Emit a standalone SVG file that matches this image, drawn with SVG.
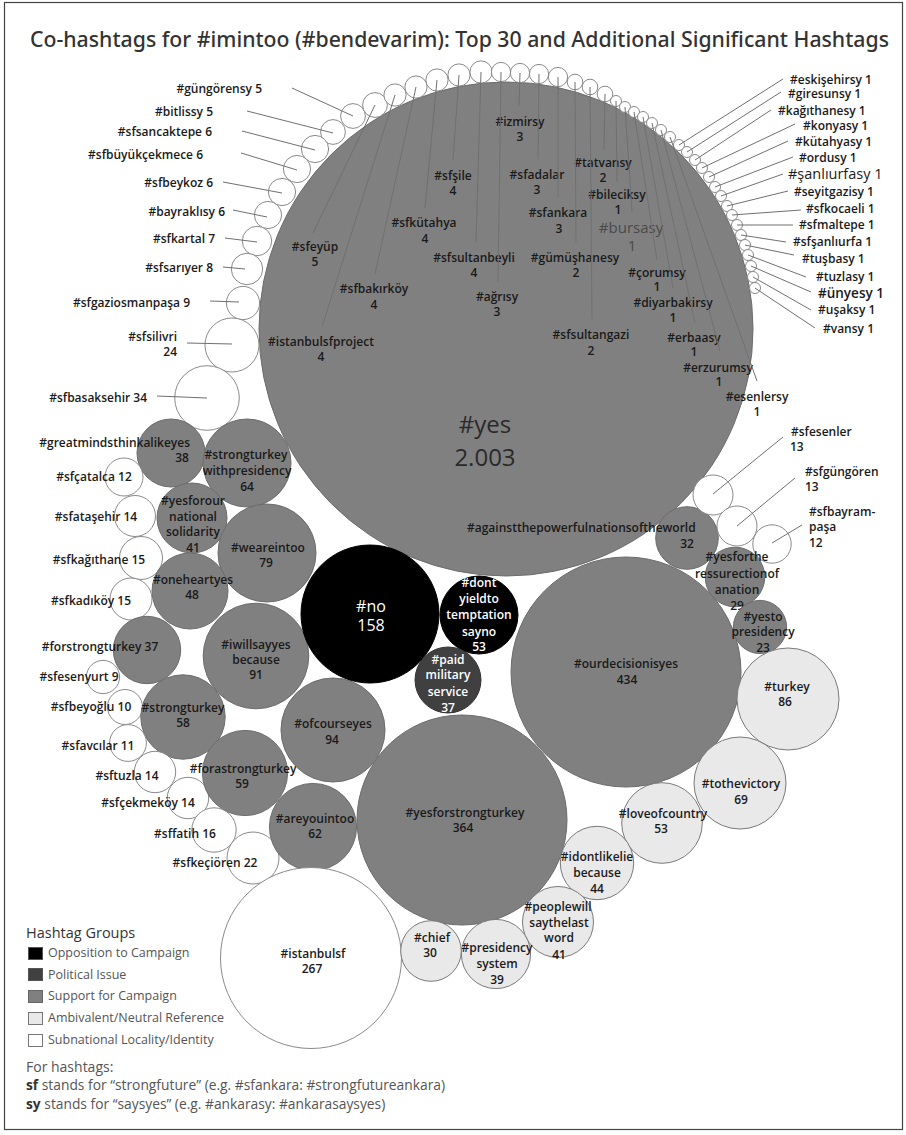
<svg xmlns="http://www.w3.org/2000/svg" width="906" height="1135" viewBox="0 0 906 1135">
<style>
.sup{fill:#808080;stroke:#6c6c6c;stroke-width:1}
.opp{fill:#000;stroke:#000}
.pol{fill:#404040;stroke:#333}
.amb{fill:#e9e9e9;stroke:#7a7a7a}
.sub{fill:#fff;stroke:#8a8a8a}
text{font-family:"Open Sans","Noto Sans","DejaVu Sans",sans-serif}
.t{font-size:12px;font-weight:600;fill:#1a1a1a;text-anchor:middle}
.s{text-anchor:start}
.e{text-anchor:end}
.w{fill:#fff}
.ln{stroke:#707070;stroke-width:1;fill:none}
.lg{font-size:12.5px;fill:#555}
</style>
<rect x="4.5" y="2.5" width="898" height="1127" fill="#fff" stroke="#444" stroke-width="1.2"/>
<text x="30" y="47" font-size="21" fill="#333" font-weight="500" textLength="859" lengthAdjust="spacingAndGlyphs" style="font-family:'Noto Sans','Open Sans',sans-serif">Co-hashtags for #imintoo (#bendevarim): Top 30 and Additional Significant Hashtags</text>

<g id="n-yes"><circle class="sup" cx="506" cy="329" r="247"/>
<text class="t" x="485" y="433" style="font-size:24px;font-weight:400;fill:#2a2a2a">#yes</text>
<text class="t" x="485" y="466" style="font-size:24px;font-weight:400;fill:#2a2a2a">2.003</text></g>

<!-- left ring -->
<g id="n-gungorensy"><circle class="sub" cx="353" cy="116" r="12.4"/><text class="t e" x="262" y="93">#güngörensy 5</text></g>
<g id="n-bitlissy"><circle class="sub" cx="333" cy="132" r="12.4"/><text class="t e" x="213" y="116">#bitlissy 5</text></g>
<g id="n-sfsancaktepe"><circle class="sub" cx="315" cy="149" r="13.6"/><text class="t e" x="212" y="136">#sfsancaktepe 6</text></g>
<g id="n-sfbuyukcekmece"><circle class="sub" cx="297" cy="169" r="13.6"/><text class="t e" x="203" y="159">#sfbüyükçekmece 6</text></g>
<g id="n-sfbeykoz"><circle class="sub" cx="282" cy="192" r="13.6"/><text class="t e" x="213" y="187">#sfbeykoz 6</text></g>
<g id="n-bayraklisy"><circle class="sub" cx="268" cy="215" r="13.6"/><text class="t e" x="225" y="216">#bayraklısy 6</text></g>
<g id="n-sfkartal"><circle class="sub" cx="257" cy="241" r="14.7"/><text class="t e" x="215" y="243">#sfkartal 7</text></g>
<g id="n-sfsariyer"><circle class="sub" cx="247" cy="269" r="15.7"/><text class="t e" x="213" y="272">#sfsarıyer 8</text></g>
<g id="n-sfgaziosmanpasa"><circle class="sub" cx="243" cy="303" r="16.6"/><text class="t e" x="190" y="307">#sfgaziosmanpaşa 9</text></g>
<g id="n-sfsilivri"><circle class="sub" cx="232" cy="345" r="27"/><text class="t e" x="177" y="341">#sfsilivri</text><text class="t e" x="177" y="356">24</text></g>
<g id="n-sfbasaksehir"><circle class="sub" cx="207" cy="398" r="32.3"/><text class="t e" x="147" y="402">#sfbasaksehir 34</text></g>

<!-- top ring with inner labels -->
<g id="n-sfeyup"><circle class="sub" cx="375" cy="105" r="12.4"/><text class="t" x="315" y="251">#sfeyüp</text><text class="t" x="315" y="266">5</text></g>
<g id="n-istanbulsfproject"><circle class="sub" cx="395" cy="95" r="11.1"/><text class="t" x="321" y="346">#istanbulsfproject</text><text class="t" x="321" y="361">4</text></g>
<g id="n-sfbakirkoy"><circle class="sub" cx="416" cy="87" r="11.1"/><text class="t" x="374" y="293">#sfbakırköy</text><text class="t" x="374" y="309">4</text></g>
<g id="n-sfkutahya"><circle class="sub" cx="437" cy="80" r="11.1"/><text class="t" x="424" y="227">#sfkütahya</text><text class="t" x="425" y="243">4</text></g>
<g id="n-sfsile"><circle class="sub" cx="459" cy="75" r="11.1"/><text class="t" x="453" y="180">#sfşile</text><text class="t" x="453" y="195">4</text></g>
<g id="n-sfsultanbeyli"><circle class="sub" cx="481" cy="72" r="11.1"/><text class="t" x="474" y="262">#sfsultanbeyli</text><text class="t" x="474" y="277">4</text></g>
<g id="n-agrisy"><circle class="sub" cx="501" cy="72" r="9.6"/><text class="t" x="497" y="301">#ağrısy</text><text class="t" x="497" y="316">3</text></g>
<g id="n-izmirsy"><circle class="sub" cx="520" cy="73" r="9.6"/><text class="t" x="520" y="126">#izmirsy</text><text class="t" x="520" y="141">3</text></g>
<g id="n-sfadalar"><circle class="sub" cx="539" cy="74" r="9.6"/><text class="t" x="537" y="179">#sfadalar</text><text class="t" x="537" y="194">3</text></g>
<g id="n-sfankara"><circle class="sub" cx="558" cy="77" r="9.6"/><text class="t" x="558" y="217">#sfankara</text><text class="t" x="559" y="233">3</text></g>
<g id="n-gumushanesy"><circle class="sub" cx="575" cy="82" r="7.8"/><text class="t" x="575" y="262">#gümüşhanesy</text><text class="t" x="576" y="277">2</text></g>
<g id="n-sfsultangazi"><circle class="sub" cx="590" cy="87" r="7.8"/><text class="t" x="591" y="339">#sfsultangazi</text><text class="t" x="591" y="355">2</text></g>
<g id="n-tatvansy"><circle class="sub" cx="605" cy="94" r="7.8"/><text class="t" x="603" y="167">#tatvansy</text><text class="t" x="603" y="182">2</text></g>
<g id="n-bileciksy"><circle class="sub" cx="616" cy="101" r="5.5"/><text class="t" x="617" y="199">#bileciksy</text><text class="t" x="618" y="214">1</text></g>
<g id="n-bursasy"><circle class="sub" cx="625" cy="107" r="5.5"/><text class="t" x="631" y="233" style="font-size:15px;font-weight:400;fill:#4a4a4a">#bursasy</text><text class="t" x="632" y="251" style="font-size:15px;font-weight:400;fill:#4a4a4a">1</text></g>
<g id="n-corumsy"><circle class="sub" cx="634" cy="112" r="5.5"/><text class="t" x="657" y="277">#çorumsy</text><text class="t" x="657" y="291">1</text></g>
<g id="n-diyarbakirsy"><circle class="sub" cx="643" cy="117" r="5.5"/><text class="t" x="673" y="307">#diyarbakirsy</text><text class="t" x="673" y="322">1</text></g>
<g id="n-erbaasy"><circle class="sub" cx="652" cy="123" r="5.5"/><text class="t" x="694" y="342">#erbaasy</text><text class="t" x="694" y="356">1</text></g>
<g id="n-erzurumsy"><circle class="sub" cx="661" cy="130" r="5.5"/><text class="t" x="718" y="372">#erzurumsy</text><text class="t" x="719" y="386">1</text></g>
<g id="n-esenlersy"><circle class="sub" cx="670" cy="137" r="5.5"/><text class="t" x="757" y="401">#esenlersy</text><text class="t" x="757" y="416">1</text></g>

<!-- right ring -->
<g id="n-eskisehirsy"><circle class="sub" cx="679" cy="145" r="5.5"/><text class="t s" x="790" y="84">#eskişehirsy 1</text></g>
<g id="n-giresunsy"><circle class="sub" cx="687" cy="152" r="5.5"/><text class="t s" x="788" y="98">#giresunsy 1</text></g>
<g id="n-kagithanesy"><circle class="sub" cx="695" cy="160" r="5.5"/><text class="t s" x="778" y="115">#kağıthanesy 1</text></g>
<g id="n-konyasy"><circle class="sub" cx="702" cy="168" r="5.5"/><text class="t s" x="803" y="130">#konyasy 1</text></g>
<g id="n-kutahyasy"><circle class="sub" cx="709" cy="177" r="5.5"/><text class="t s" x="795" y="146">#kütahyasy 1</text></g>
<g id="n-ordusy"><circle class="sub" cx="715" cy="187" r="5.5"/><text class="t s" x="799" y="162">#ordusy 1</text></g>
<g id="n-sanliurfasy"><circle class="sub" cx="721" cy="196" r="5.5"/><text class="t s" x="788" y="179" style="font-size:14.5px;font-weight:400">#şanlıurfasy 1</text></g>
<g id="n-seyitgazisy"><circle class="sub" cx="727" cy="206" r="5.5"/><text class="t s" x="794" y="196">#seyitgazisy 1</text></g>
<g id="n-sfkocaeli"><circle class="sub" cx="732" cy="215" r="5.5"/><text class="t s" x="806" y="213">#sfkocaeli 1</text></g>
<g id="n-sfmaltepe"><circle class="sub" cx="737" cy="225" r="5.5"/><text class="t s" x="799" y="229">#sfmaltepe 1</text></g>
<g id="n-sfsanliurfa"><circle class="sub" cx="741" cy="235" r="5.5"/><text class="t s" x="793" y="246">#sfşanlıurfa 1</text></g>
<g id="n-tusbasy"><circle class="sub" cx="745" cy="245" r="5.5"/><text class="t s" x="802" y="263">#tuşbasy 1</text></g>
<g id="n-tuzlasy"><circle class="sub" cx="748" cy="255" r="5.5"/><text class="t s" x="816" y="281">#tuzlasy 1</text></g>
<g id="n-unyesy"><circle class="sub" cx="751" cy="266" r="5.5"/><text class="t s" x="818" y="298" style="font-size:13.5px">#ünyesy 1</text></g>
<g id="n-usaksy"><circle class="sub" cx="753" cy="277" r="5.5"/><text class="t s" x="818" y="314">#uşaksy 1</text></g>
<g id="n-vansy"><circle class="sub" cx="755" cy="288" r="5.5"/><text class="t s" x="823" y="333">#vansy 1</text></g>

<!-- left cluster -->
<g id="n-greatminds"><circle class="sup" cx="171" cy="453" r="34"/><text class="t e" x="190" y="447">#greatmindsthinkalikeyes</text><text class="t" x="182" y="462">38</text></g>
<g id="n-strongturkeywithpresidency"><circle class="sup" cx="247" cy="463" r="44"/><text class="t" x="246" y="459">#strongturkey</text><text class="t" x="247" y="475">withpresidency</text><text class="t" x="247" y="491">64</text></g>
<g id="n-sfcatalca"><circle class="sub" cx="124" cy="477" r="19"/><text class="t" x="94" y="481">#sfçatalca 12</text></g>
<g id="n-sfatasehir"><circle class="sub" cx="135" cy="516" r="20.5"/><text class="t" x="96" y="521">#sfataşehir 14</text></g>
<g id="n-yesforour"><circle class="sup" cx="192" cy="518" r="35"/><text class="t" x="193" y="505">#yesforour</text><text class="t" x="193" y="521">national</text><text class="t" x="193" y="536">solidarity</text><text class="t" x="193" y="552">41</text></g>
<g id="n-sfkagithane"><circle class="sub" cx="141" cy="558" r="21.5"/><text class="t" x="99" y="564">#sfkağıthane 15</text></g>
<g id="n-weareintoo"><circle class="sup" cx="267" cy="553" r="49"/><text class="t" x="268" y="552">#weareintoo</text><text class="t" x="266" y="567">79</text></g>
<g id="n-oneheartyes"><circle class="sup" cx="190" cy="591" r="38"/><text class="t" x="193" y="584">#oneheartyes</text><text class="t" x="192" y="599">48</text></g>
<g id="n-sfkadikoy"><circle class="sub" cx="131" cy="599" r="21"/><text class="t" x="91" y="605">#sfkadıköy 15</text></g>
<g id="n-forstrongturkey"><circle class="sup" cx="147" cy="650" r="33.7"/><text class="t" x="100" y="651">#forstrongturkey 37</text></g>
<g id="n-iwillsayyes"><circle class="sup" cx="256" cy="656" r="52.8"/><text class="t" x="256" y="649">#iwillsayyes</text><text class="t" x="256" y="664">because</text><text class="t" x="256" y="679">91</text></g>
<g id="n-sfesenyurt"><circle class="sub" cx="103" cy="677" r="16.6"/><text class="t" x="79" y="681">#sfesenyurt 9</text></g>
<g id="n-sfbeyoglu"><circle class="sub" cx="125" cy="707" r="17.5"/><text class="t" x="91" y="711">#sfbeyoğlu 10</text></g>
<g id="n-strongturkey"><circle class="sup" cx="183" cy="717" r="42.2"/><text class="t" x="183" y="712">#strongturkey</text><text class="t" x="183" y="727">58</text></g>
<g id="n-sfavcilar"><circle class="sub" cx="128" cy="743" r="18.4"/><text class="t" x="98" y="750">#sfavcılar 11</text></g>
<g id="n-sftuzla"><circle class="sub" cx="155" cy="772" r="20.7"/><text class="t" x="127" y="780">#sftuzla 14</text></g>
<g id="n-sfcekmekoy"><circle class="sub" cx="188" cy="798" r="20.7"/><text class="t" x="148" y="807">#sfçekmeköy 14</text></g>
<g id="n-forastrongturkey"><circle class="sup" cx="245" cy="773" r="42.6"/><text class="t" x="243" y="773">#forastrongturkey</text><text class="t" x="242" y="788">59</text></g>
<g id="n-sffatih"><circle class="sub" cx="214" cy="830" r="22.2"/><text class="t" x="185" y="838">#sffatih 16</text></g>
<g id="n-sfkecioren"><circle class="sub" cx="253" cy="858" r="26"/><text class="t" x="215" y="867">#sfkeçiören 22</text></g>
<g id="n-ofcourseyes"><circle class="sup" cx="333" cy="730" r="52"/><text class="t" x="333" y="728">#ofcourseyes</text><text class="t" x="332" y="744">94</text></g>
<g id="n-areyouintoo"><circle class="sup" cx="313" cy="827" r="43.6"/><text class="t" x="315" y="823">#areyouintoo</text><text class="t" x="315" y="838">62</text></g>
<g id="n-istanbulsf"><circle class="sub" cx="311" cy="958" r="90.5"/><text class="t" x="313" y="958">#istanbulsf</text><text class="t" x="312" y="973">267</text></g>

<!-- center -->
<g id="n-no"><circle class="opp" cx="370" cy="614" r="69"/><text class="t w" x="371" y="612" style="font-size:16px;font-weight:400">#no</text><text class="t w" x="371" y="631" style="font-size:16px;font-weight:400">158</text></g>
<g id="n-dontyield"><circle class="opp" cx="479" cy="615" r="39"/><text class="t w" x="479" y="587">#dont</text><text class="t w" x="479" y="603">yieldto</text><text class="t w" x="479" y="619">temptation</text><text class="t w" x="479" y="636">sayno</text><text class="t w" x="479" y="651">53</text></g>
<g id="n-paidmilitary"><circle class="pol" cx="448" cy="680" r="33"/><text class="t w" x="448" y="664">#paid</text><text class="t w" x="448" y="679">military</text><text class="t w" x="448" y="696">service</text><text class="t w" x="448" y="712">37</text></g>
<g id="n-yesforstrongturkey"><circle class="sup" cx="462" cy="820" r="105"/><text class="t" x="465" y="817">#yesforstrongturkey</text><text class="t" x="463" y="832">364</text></g>
<g id="n-ourdecisionisyes"><circle class="sup" cx="626" cy="672" r="115"/><text class="t" x="626" y="668">#ourdecisionisyes</text><text class="t" x="627" y="684">434</text></g>

<!-- right cluster -->
<g id="n-against"><circle class="sup" cx="687" cy="538" r="31.3"/><text class="t s" x="467" y="532">#againstthepowerfulnationsoftheworld</text><text class="t" x="687" y="548">32</text></g>
<g id="n-sfesenler"><circle class="sub" cx="713" cy="495" r="20"/><text class="t s" x="791" y="436">#sfesenler</text><text class="t s" x="790" y="451">13</text></g>
<g id="n-sfgungoren"><circle class="sub" cx="737" cy="526" r="20"/><text class="t s" x="805" y="476">#sfgüngören</text><text class="t s" x="805" y="491">13</text></g>
<g id="n-sfbayrampasa"><circle class="sub" cx="772" cy="544" r="19.2"/><text class="t s" x="809" y="516">#sfbayram-</text><text class="t s" x="809" y="531">paşa</text><text class="t s" x="809" y="547">12</text></g>
<g id="n-yesforthe"><circle class="sup" cx="735" cy="577" r="29.8"/><text class="t" x="737" y="561">#yesforthe</text><text class="t" x="737" y="578">ressurectionof</text><text class="t" x="737" y="594">anation</text><text class="t" x="737" y="610">29</text></g>
<g id="n-yesto"><circle class="sup" cx="760" cy="627" r="26.6"/><text class="t" x="763" y="621">#yesto</text><text class="t" x="763" y="636">presidency</text><text class="t" x="763" y="652">23</text></g>
<g id="n-turkey"><circle class="amb" cx="788" cy="699" r="51"/><text class="t" x="787" y="691">#turkey</text><text class="t" x="785" y="706">86</text></g>
<g id="n-tothevictory"><circle class="amb" cx="740" cy="783" r="46"/><text class="t" x="741" y="788">#tothevictory</text><text class="t" x="741" y="804">69</text></g>
<g id="n-loveofcountry"><circle class="amb" cx="662" cy="823" r="40.3"/><text class="t" x="663" y="818">#loveofcountry</text><text class="t" x="661" y="833">53</text></g>
<g id="n-idontlikelie"><circle class="amb" cx="597" cy="863" r="36.7"/><text class="t" x="597" y="861">#idontlikelie</text><text class="t" x="597" y="877">because</text><text class="t" x="597" y="893">44</text></g>
<g id="n-peoplewill"><circle class="amb" cx="558" cy="922" r="35.5"/><text class="t" x="558" y="911">#peoplewill</text><text class="t" x="559" y="927">saythelast</text><text class="t" x="559" y="942">word</text><text class="t" x="559" y="959">41</text></g>
<g id="n-presidencysystem"><circle class="amb" cx="496" cy="954" r="34.6"/><text class="t" x="497" y="952">#presidency</text><text class="t" x="497" y="968">system</text><text class="t" x="497" y="984">39</text></g>
<g id="n-chief"><circle class="amb" cx="431" cy="951" r="30.3"/><text class="t" x="432" y="942">#chief</text><text class="t" x="430" y="957">30</text></g>

<g id="connectors" class="ln">
<line x1="292" y1="88" x2="353" y2="116"/>
<line x1="247" y1="111" x2="333" y2="133"/>
<line x1="242" y1="131" x2="315" y2="150"/>
<line x1="241" y1="153" x2="297" y2="170"/>
<line x1="223" y1="182" x2="282" y2="193"/>
<line x1="233" y1="210" x2="267" y2="217"/>
<line x1="225" y1="238" x2="257" y2="242"/>
<line x1="223" y1="267" x2="245" y2="269"/>
<line x1="210" y1="301" x2="239" y2="302"/>
<line x1="187" y1="343" x2="232" y2="344"/>
<line x1="157" y1="396" x2="207" y2="398"/>
<line x1="375" y1="105" x2="313" y2="233"/>
<line x1="395" y1="95" x2="322" y2="327"/>
<line x1="416" y1="87" x2="375" y2="274"/>
<line x1="437" y1="80" x2="425" y2="208"/>
<line x1="459" y1="75" x2="453" y2="160"/>
<line x1="481" y1="72" x2="476" y2="242"/>
<line x1="501" y1="72" x2="498" y2="282"/>
<line x1="520" y1="73" x2="519" y2="106"/>
<line x1="539" y1="74" x2="538" y2="159"/>
<line x1="558" y1="77" x2="558" y2="198"/>
<line x1="575" y1="82" x2="576" y2="242"/>
<line x1="590" y1="87" x2="592" y2="319"/>
<line x1="605" y1="94" x2="604" y2="150"/>
<line x1="616" y1="101" x2="617" y2="182"/>
<line x1="625" y1="107" x2="632" y2="212"/>
<line x1="634" y1="112" x2="657" y2="260"/>
<line x1="643" y1="117" x2="673" y2="288"/>
<line x1="652" y1="123" x2="695" y2="323"/>
<line x1="661" y1="130" x2="720" y2="351"/>
<line x1="670" y1="137" x2="757" y2="381"/>
<line x1="679" y1="145" x2="783" y2="79"/>
<line x1="687" y1="152" x2="781" y2="92"/>
<line x1="695" y1="160" x2="771" y2="110"/>
<line x1="702" y1="168" x2="795" y2="124"/>
<line x1="709" y1="177" x2="788" y2="141"/>
<line x1="715" y1="187" x2="793" y2="157"/>
<line x1="721" y1="196" x2="783" y2="174"/>
<line x1="727" y1="206" x2="788" y2="191"/>
<line x1="732" y1="215" x2="801" y2="210"/>
<line x1="737" y1="225" x2="793" y2="225"/>
<line x1="741" y1="235" x2="786" y2="242"/>
<line x1="745" y1="245" x2="794" y2="255"/>
<line x1="748" y1="255" x2="806" y2="277"/>
<line x1="751" y1="266" x2="811" y2="292"/>
<line x1="753" y1="277" x2="811" y2="310"/>
<line x1="755" y1="288" x2="815" y2="328"/>
<line x1="783" y1="437" x2="713" y2="494"/>
<line x1="795" y1="478" x2="737" y2="526"/>
<line x1="802" y1="525" x2="772" y2="543"/>
</g>

<g id="legend">
<text x="26" y="938" style="font-size:14.5px;fill:#333;font-weight:500">Hashtag Groups</text>
<rect x="28.5" y="947.5" width="14" height="12" fill="#000" stroke="#555"/>
<rect x="28.5" y="968.5" width="14" height="12" fill="#404040" stroke="#555"/>
<rect x="28.5" y="990.5" width="14" height="12" fill="#808080" stroke="#666"/>
<rect x="28.5" y="1012.5" width="14" height="12" fill="#e9e9e9" stroke="#777"/>
<rect x="28.5" y="1034.5" width="14" height="12" fill="#fff" stroke="#777"/>
<text class="lg" x="48" y="957">Opposition to Campaign</text>
<text class="lg" x="48" y="979">Political Issue</text>
<text class="lg" x="48" y="1000">Support for Campaign</text>
<text class="lg" x="48" y="1022">Ambivalent/Neutral Reference</text>
<text class="lg" x="48" y="1044">Subnational Locality/Identity</text>
<text x="26" y="1072" style="font-size:14px;fill:#555">For hashtags:</text>
<text x="26" y="1090" style="font-size:13.8px;fill:#555"><tspan font-weight="bold" fill="#333">sf</tspan> stands for “strongfuture” (e.g. #sfankara: #strongfutureankara)</text>
<text x="26" y="1109" style="font-size:13.8px;fill:#555"><tspan font-weight="bold" fill="#333">sy</tspan> stands for “saysyes” (e.g. #ankarasy: #ankarasaysyes)</text>
</g>
</svg>
